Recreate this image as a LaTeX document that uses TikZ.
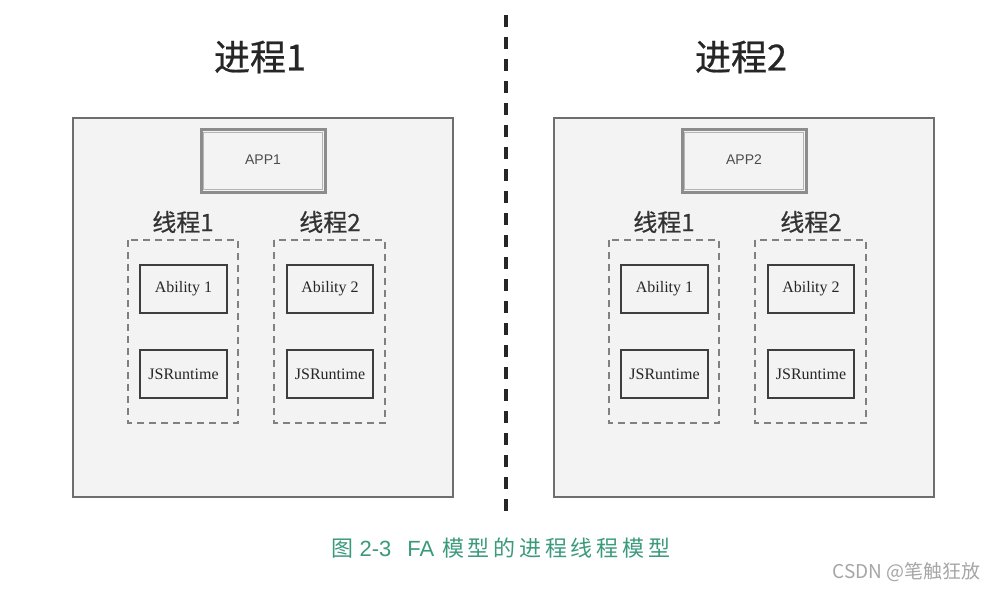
\documentclass[tikz,border=0pt]{standalone}
\usepackage{fontspec}
\setmainfont{Liberation Serif}
\newfontfamily\cjk[FakeBold=0.6]{Noto Sans CJK SC}
\newfontfamily\cjkn{Noto Sans CJK SC}
\newfontfamily\cjkcap[LetterSpace=17]{Noto Sans CJK SC}
\newfontfamily\lsans{Liberation Sans}
\definecolor{outerfill}{HTML}{F2F3F2}
\definecolor{outerline}{HTML}{6E6E6E}
\definecolor{appline}{HTML}{8C8C8C}
\definecolor{appinner}{HTML}{B4B4B4}
\definecolor{dashline}{HTML}{808080}
\definecolor{abline}{HTML}{3E3E3E}
\definecolor{captc}{HTML}{3A9A7C}
\begin{document}
\begin{tikzpicture}[x=1pt,y=-1pt,
  outerbox/.style={draw=outerline,line width=2.2pt,fill=outerfill},
  appbox/.style={draw=appline,line width=3pt,fill=outerfill},
  appin/.style={draw=appinner,line width=1pt},
  threadbox/.style={draw=dashline,line width=2.4pt,dash pattern=on 7pt off 5pt},
  abbox/.style={draw=abline,line width=2.6pt,fill=outerfill},
  ttl/.style={font=\cjk\fontsize{36}{42}\selectfont,text=black!85},
  thl/.style={font=\cjk\fontsize{24}{28}\selectfont,text=black!80},
  apptxt/.style={font=\lsans\fontsize{14}{16}\selectfont,text=black!70},
  abtxt/.style={font=\fontsize{16}{18}\selectfont,text=black!85}]
\useasboundingbox (0,0) rectangle (985,591);
\fill[white] (0,0) rectangle (985,591);
% divider
\coordinate (dtop) at (506,15);
\coordinate (dbot) at (506,512);
\draw[black!85,line width=3.5pt,dash pattern=on 12pt off 10pt] (dtop) -- (dbot);
% panels
\foreach \p/\dx in {1/0,2/481}{
  \begin{scope}[xshift=\dx]
  \node[ttl] (title\p) at (260,57) {进程\p};
  \draw[outerbox] (73,118) rectangle (453,497);
  \draw[appbox] (201,130) rectangle (325,192);
  \draw[appin] (203.5,132.5) rectangle (322.5,189.5);
  \node[apptxt] (app\p) at (263,160) {APP\p};
  \node[thl] (tla\p) at (183,222) {线程1};
  \node[thl] (tlb\p) at (330,222) {线程2};
  \draw[threadbox] (128,240) rectangle (238,423);
  \draw[threadbox] (274,240) rectangle (385,423);
  \draw[abbox] (140,265) rectangle (227,313);
  \node[abtxt] (aba\p) at (183.5,289) {Ability 1};
  \draw[abbox] (140,350) rectangle (227,398);
  \node[abtxt] (jsa\p) at (183.5,374) {JSRuntime};
  \draw[abbox] (287,265) rectangle (373,313);
  \node[abtxt] (abb\p) at (330,289) {Ability 2};
  \draw[abbox] (287,350) rectangle (373,398);
  \node[abtxt] (jsb\p) at (330,374) {JSRuntime};
  \end{scope}
}
\node[anchor=west,font=\fontsize{22}{26}\selectfont,text=captc] (cap) at (328,548) {{\cjkcap 图}\hspace{6pt}{\lsans 2-3}\hspace{16pt}{\lsans FA}\hspace{8pt}{\cjkcap 模型的进程线程模型}};
\node[anchor=east,font=\cjkn\fontsize{19}{22}\selectfont,text=black!35] (wm) at (984,572) {CSDN @笔触狂放};
\end{tikzpicture}
\end{document}
